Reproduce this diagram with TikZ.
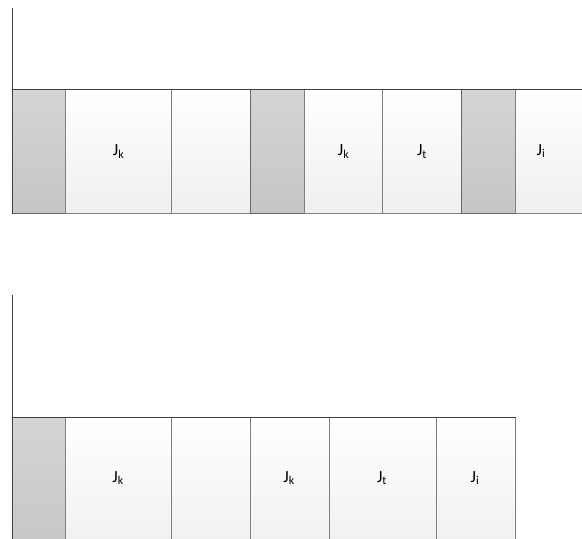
\documentclass[tikz,border=0pt]{standalone}
\usepackage{fontspec}
\setmainfont{Carlito}
\definecolor{edge}{HTML}{7F7F7F}
\definecolor{dark}{HTML}{404040}
\definecolor{gtop}{HTML}{D4D4D4}
\definecolor{gbot}{HTML}{C6C6C6}
\definecolor{wbot}{HTML}{EFEFEF}
\begin{document}
\begin{tikzpicture}[x=1pt,y=-1pt,
  lbl/.style={font=\fontsize{17}{20}\selectfont, text=black},
  cell/.style={draw=edge, line width=1pt, top color=white, bottom color=wbot,
    anchor=north west, inner sep=0pt, minimum height=124pt, lbl},
  graycell/.style={top color=gtop, bottom color=gbot, draw=dark!80},
  lowcell/.style={cell, minimum height=140pt},
  axis/.style={draw=dark, line width=1pt}]
\useasboundingbox (0,0) rectangle (582,539);
\clip (0,0) rectangle (582,539);
% top row
\node[cell, graycell, minimum width=53pt] (a1) at (12,89) {};
\node[cell, minimum width=106pt] (a2) at (65,89) {J\textsubscript{k}};
\node[cell, minimum width=79pt] (a3) at (171,89) {};
\node[cell, graycell, minimum width=54pt] (a4) at (250,89) {};
\node[cell, minimum width=78pt] (a5) at (304,89) {J\textsubscript{k}};
\node[cell, minimum width=79pt] (a6) at (382,89) {J\textsubscript{t}};
\node[cell, graycell, minimum width=54pt] (a7) at (461,89) {};
\node[cell, minimum width=90pt] (a8) at (515,89) {};
\node[lbl] (a8t) at (541,151) {J\textsubscript{i}};
\draw[axis] (12,8) coordinate (ya) -- (a1.south west);
\draw[axis] (a1.north west) -- (590,89) coordinate (xa);
% bottom row
\node[lowcell, graycell, minimum width=53pt] (b1) at (12,417) {};
\node[lowcell, minimum width=106pt] (b2) at (65,417) {};
\node[lowcell, minimum width=79pt] (b3) at (171,417) {};
\node[lowcell, minimum width=79pt] (b4) at (250,417) {};
\node[lowcell, minimum width=107pt] (b5) at (329,417) {};
\node[lowcell, minimum width=79pt] (b6) at (436,417) {};
\node[lbl] (b2t) at (118,478) {J\textsubscript{k}};
\node[lbl] (b4t) at (289,478) {J\textsubscript{k}};
\node[lbl] (b5t) at (382,478) {J\textsubscript{t}};
\node[lbl] (b6t) at (475,478) {J\textsubscript{i}};
\draw[axis] (12,295) coordinate (yb) -- (b1.south west);
\draw[axis] (b1.north west) -- (b6.north east);
\end{tikzpicture}
\end{document}
